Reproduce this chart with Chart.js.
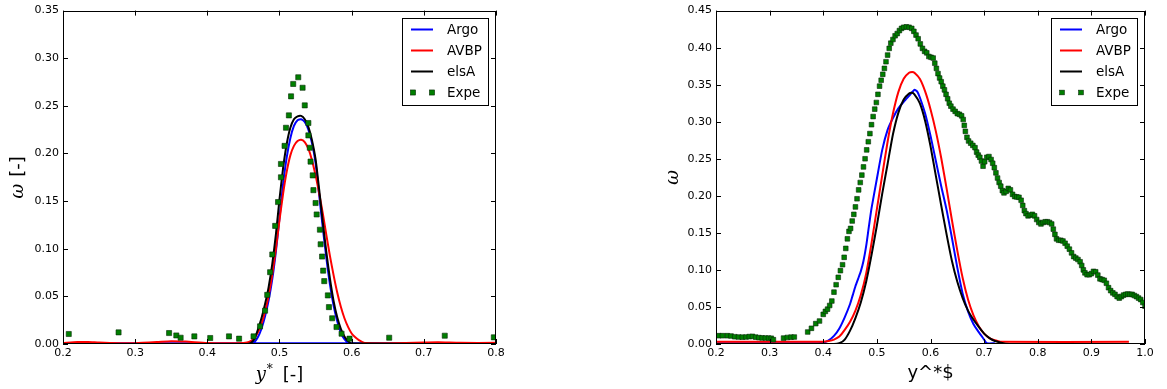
<!DOCTYPE html>
<html>
<head>
<meta charset="utf-8">
<script src="https://cdn.jsdelivr.net/npm/chart.js@4.4.1/dist/chart.umd.min.js"></script>
<style>
  html, body { margin: 0; padding: 0; background: #fff; }
  #wrap { position: relative; width: 1167px; height: 389px; overflow: hidden; }
  canvas { position: absolute; top: 0; }
  #c1 { left: 0; }
  #c2 { left: 583px; }
</style>
</head>
<body>
<div id="wrap">
  <canvas id="c1" width="583" height="389"></canvas>
  <canvas id="c2" width="584" height="389"></canvas>
</div>
<script>
// ---------- shared ----------
const seriesNames = ['Argo', 'AVBP', 'elsA', 'Expe'];

// ---------- left panel: omega vs y* ----------
const leftXTicks = [0.2, 0.3, 0.4, 0.5, 0.6, 0.7, 0.8];
const leftYTicks = [0, 0.05, 0.10, 0.15, 0.20, 0.25, 0.30, 0.35];

// Argo: peak, then the flat trace running back along the bottom
const leftArgoX = [0.20, 0.30, 0.40, 0.455, 0.46, 0.465, 0.47, 0.475, 0.48, 0.485, 0.49, 0.495, 0.50, 0.505, 0.51, 0.515,
  0.52, 0.525, 0.53, 0.535, 0.54, 0.545, 0.55, 0.555, 0.56, 0.565, 0.57, 0.575, 0.58, 0.585, 0.59, 0.595, 0.60,
  0.70, 0.80, 0.20];
const leftArgoY = [0.0008, 0.0008, 0.0008, 0.0008, 0.001, 0.002, 0.007, 0.016, 0.029, 0.046, 0.068, 0.097, 0.132, 0.168, 0.196, 0.216,
  0.229, 0.235, 0.236, 0.233, 0.225, 0.211, 0.190, 0.156, 0.122, 0.090, 0.062, 0.040, 0.024, 0.012, 0.005, 0.0015, 0.0008,
  0.0008, 0.0008, 0.0008];

const leftAvbpX = [0.20, 0.22, 0.235, 0.25, 0.28, 0.30, 0.33, 0.35, 0.37, 0.40, 0.43, 0.45, 0.455, 0.46, 0.465, 0.47, 0.475,
  0.48, 0.485, 0.49, 0.495, 0.50, 0.505, 0.51, 0.515, 0.52, 0.525, 0.53, 0.535, 0.54, 0.545, 0.55, 0.555, 0.56,
  0.565, 0.57, 0.575, 0.58, 0.585, 0.59, 0.595, 0.60, 0.605, 0.61, 0.615, 0.62, 0.65, 0.70, 0.72, 0.75, 0.80];
const leftAvbpY = [0.001, 0.002, 0.0022, 0.0015, 0.0008, 0.0008, 0.002, 0.003, 0.0025, 0.001, 0.0008, 0.001, 0.0015, 0.003, 0.006, 0.012, 0.021,
  0.034, 0.051, 0.073, 0.100, 0.130, 0.158, 0.181, 0.198, 0.208, 0.213, 0.2145, 0.212, 0.205, 0.193, 0.177, 0.158, 0.137,
  0.114, 0.092, 0.072, 0.054, 0.039, 0.027, 0.018, 0.011, 0.007, 0.004, 0.002, 0.001, 0.0008, 0.0015, 0.0018, 0.0012, 0.0012];

const leftElsaX = [0.20, 0.455, 0.46, 0.465, 0.47, 0.475, 0.48, 0.485, 0.49, 0.495, 0.50, 0.505, 0.51, 0.515, 0.52, 0.525,
  0.53, 0.535, 0.54, 0.545, 0.55, 0.555, 0.56, 0.565, 0.57, 0.575, 0.58, 0.585, 0.59, 0.595, 0.60, 0.80];
const leftElsaY = [0, 0, 0.001, 0.005, 0.015, 0.027, 0.042, 0.060, 0.084, 0.115, 0.152, 0.185, 0.210, 0.227, 0.236, 0.239,
  0.2395, 0.236, 0.228, 0.214, 0.194, 0.162, 0.128, 0.096, 0.068, 0.045, 0.028, 0.016, 0.008, 0.003, 0.0005, 0];

const leftExpeX = [0.208, 0.277, 0.347, 0.357, 0.363, 0.382, 0.404, 0.430, 0.444, 0.464,
  0.473, 0.480, 0.483, 0.487, 0.490, 0.494, 0.498, 0.502, 0.502, 0.507,
  0.509, 0.513, 0.516, 0.519, 0.526, 0.532, 0.535, 0.540, 0.540, 0.542,
  0.543, 0.546, 0.547, 0.550, 0.5515, 0.556, 0.557, 0.559, 0.5605, 0.562,
  0.567, 0.5685, 0.573, 0.579, 0.586, 0.597, 0.652, 0.729, 0.797];
const leftExpeY = [0.0105, 0.0122, 0.0115, 0.009, 0.0066, 0.008, 0.0063, 0.008, 0.0056, 0.008,
  0.0185, 0.035, 0.0516, 0.0754, 0.094, 0.124, 0.149, 0.175, 0.189, 0.208,
  0.227, 0.240, 0.260, 0.273, 0.280, 0.269, 0.2505, 0.232, 0.219, 0.206,
  0.1915, 0.177, 0.1615, 0.148, 0.136, 0.120, 0.1047, 0.0918, 0.077, 0.066,
  0.051, 0.0387, 0.027, 0.0178, 0.0108, 0.0056, 0.0066, 0.0087, 0.007];

// ---------- right panel: omega vs y^*$ ----------
const rightXTicks = [0.2, 0.3, 0.4, 0.5, 0.6, 0.7, 0.8, 0.9, 1.0];
const rightYTicks = [0, 0.05, 0.10, 0.15, 0.20, 0.25, 0.30, 0.35, 0.40, 0.45];

const rightArgoX = [0.20, 0.39, 0.40, 0.41, 0.42, 0.43, 0.44, 0.45, 0.455, 0.46, 0.465, 0.47, 0.475, 0.48, 0.485, 0.49,
  0.50, 0.51, 0.52, 0.53, 0.54, 0.55, 0.56, 0.57, 0.575, 0.58, 0.59, 0.60, 0.61, 0.62, 0.63, 0.64, 0.65, 0.66,
  0.67, 0.68, 0.69, 0.70, 0.705, 0.72];
const rightArgoY = [0.001, 0.001, 0.002, 0.005, 0.011, 0.021, 0.036, 0.054, 0.066, 0.078, 0.088, 0.098, 0.112, 0.132, 0.158, 0.183,
  0.223, 0.262, 0.289, 0.305, 0.318, 0.327, 0.335, 0.343, 0.341, 0.333, 0.311, 0.281, 0.247, 0.213, 0.181, 0.143, 0.103, 0.068,
  0.044, 0.027, 0.016, 0.006, 0.001, 0.001];

const rightAvbpX = [0.20, 0.40, 0.41, 0.42, 0.43, 0.44, 0.45, 0.46, 0.47, 0.48, 0.49, 0.50, 0.51, 0.52, 0.53, 0.54, 0.55,
  0.56, 0.566, 0.57, 0.58, 0.59, 0.60, 0.61, 0.62, 0.63, 0.64, 0.65, 0.66, 0.67, 0.68, 0.69, 0.70, 0.71, 0.72, 0.73, 0.97];
const rightAvbpY = [0.003, 0.003, 0.004, 0.006, 0.010, 0.019, 0.030, 0.045, 0.066, 0.095, 0.136, 0.182, 0.228, 0.273, 0.311, 0.340, 0.358,
  0.366, 0.367, 0.366, 0.358, 0.341, 0.317, 0.287, 0.251, 0.210, 0.167, 0.126, 0.089, 0.060, 0.039, 0.024, 0.014, 0.008, 0.005, 0.003, 0.003];

const rightElsaX = [0.20, 0.42, 0.43, 0.44, 0.45, 0.46, 0.47, 0.48, 0.49, 0.50, 0.51, 0.52, 0.53, 0.54, 0.55, 0.56, 0.565,
  0.57, 0.58, 0.59, 0.60, 0.61, 0.62, 0.63, 0.64, 0.65, 0.66, 0.67, 0.68, 0.69, 0.70, 0.71, 0.72, 0.73, 0.74, 0.75];
const rightElsaY = [0, 0, 0.001, 0.006, 0.018, 0.035, 0.056, 0.084, 0.120, 0.160, 0.203, 0.243, 0.283, 0.312, 0.330, 0.338, 0.339,
  0.337, 0.325, 0.301, 0.267, 0.227, 0.187, 0.148, 0.112, 0.084, 0.062, 0.045, 0.033, 0.023, 0.014, 0.008, 0.004, 0.002, 0.0005, 0];

const rightExpeX = [
  0.205, 0.212, 0.221, 0.228, 0.235, 0.242, 0.249, 0.256, 0.262, 0.268,
  0.274, 0.280, 0.286, 0.292, 0.298, 0.303, 0.307, 0.326, 0.333, 0.340,
  0.346, 0.371, 0.378, 0.386, 0.393, 0.400, 0.404, 0.408, 0.412, 0.416,
  0.420, 0.424, 0.428, 0.432, 0.436, 0.439, 0.442, 0.445, 0.448, 0.451,
  0.454, 0.457, 0.460, 0.463, 0.466, 0.469, 0.472, 0.475, 0.478, 0.481,
  0.484, 0.487, 0.490, 0.493, 0.496, 0.499, 0.502, 0.505, 0.508, 0.511,
  0.514, 0.517, 0.520, 0.523, 0.526, 0.530, 0.534, 0.538, 0.542, 0.546,
  0.550, 0.555, 0.560, 0.565, 0.569, 0.573, 0.577, 0.581, 0.585, 0.589,
  0.593, 0.597, 0.601, 0.605, 0.608, 0.611, 0.614, 0.617, 0.620, 0.623,
  0.626, 0.629, 0.632, 0.635, 0.638, 0.642, 0.646, 0.650, 0.654, 0.658,
  0.661, 0.663, 0.665, 0.668, 0.671, 0.675, 0.679, 0.683, 0.686, 0.689,
  0.692, 0.695, 0.698, 0.701, 0.705, 0.709, 0.713, 0.716, 0.719, 0.722,
  0.725, 0.728, 0.731, 0.734, 0.737, 0.741, 0.745, 0.749, 0.753, 0.757,
  0.761, 0.765, 0.769, 0.772, 0.775, 0.778, 0.782, 0.786, 0.790, 0.794,
  0.798, 0.802, 0.806, 0.810, 0.814, 0.818, 0.822, 0.826, 0.829, 0.832,
  0.835, 0.839, 0.843, 0.847, 0.851, 0.855, 0.859, 0.863, 0.867, 0.871,
  0.875, 0.879, 0.882, 0.885, 0.888, 0.892, 0.896, 0.900, 0.904, 0.908,
  0.912, 0.916, 0.920, 0.924, 0.928, 0.932, 0.936, 0.940, 0.944, 0.948,
  0.952, 0.956, 0.960, 0.964, 0.968, 0.972, 0.976, 0.980, 0.984, 0.988,
  0.992, 0.996, 1.000];
const rightExpeY = [
  0.0112, 0.0112, 0.0112, 0.0108, 0.0098, 0.0094, 0.0092, 0.0094, 0.0100, 0.0103,
  0.0092, 0.0086, 0.0082, 0.0081, 0.0080, 0.0078, 0.0058, 0.0080, 0.0088, 0.0092,
  0.0094, 0.0162, 0.0212, 0.0275, 0.0310, 0.0400, 0.0440, 0.0470, 0.0520, 0.0580,
  0.070, 0.080, 0.090, 0.099, 0.107, 0.117, 0.129, 0.142, 0.152, 0.156,
  0.166, 0.175, 0.185, 0.196, 0.208, 0.218, 0.228, 0.239, 0.250, 0.262,
  0.273, 0.284, 0.296, 0.307, 0.317, 0.326, 0.337, 0.348, 0.356, 0.364,
  0.372, 0.381, 0.390, 0.399, 0.406, 0.411, 0.416, 0.419, 0.423, 0.426,
  0.4275, 0.428, 0.4275, 0.426, 0.422, 0.417, 0.412, 0.405, 0.399, 0.395,
  0.393, 0.388, 0.387, 0.386, 0.379, 0.372, 0.365, 0.359, 0.354, 0.348,
  0.343, 0.337, 0.331, 0.325, 0.321, 0.317, 0.314, 0.311, 0.310, 0.308,
  0.303, 0.295, 0.287, 0.279, 0.274, 0.271, 0.268, 0.265, 0.259, 0.255,
  0.252, 0.247, 0.240, 0.246, 0.252, 0.253, 0.249, 0.244, 0.238, 0.231,
  0.224, 0.218, 0.213, 0.207, 0.204, 0.206, 0.210, 0.208, 0.202, 0.199,
  0.1985, 0.198, 0.194, 0.187, 0.180, 0.176, 0.173, 0.174, 0.175, 0.173,
  0.168, 0.164, 0.162, 0.164, 0.165, 0.165, 0.164, 0.162, 0.155, 0.148,
  0.142, 0.140, 0.140, 0.139, 0.136, 0.132, 0.128, 0.123, 0.118, 0.116,
  0.114, 0.111, 0.106, 0.100, 0.096, 0.0935, 0.0935, 0.095, 0.098, 0.0975,
  0.093, 0.088, 0.087, 0.086, 0.082, 0.076, 0.072, 0.069, 0.067, 0.064,
  0.062, 0.064, 0.066, 0.067, 0.0675, 0.067, 0.067, 0.0655, 0.064, 0.062,
  0.060, 0.056, 0.051];

// ---------- helpers ----------
const pts = (xs, ys) => xs.map((x, i) => ({ x, y: ys[i] }));
const TEXT = '#000';
const SANS = '"DejaVu Sans", sans-serif';
const SERIF = '"DejaVu Serif", serif';

function lineSet(label, xs, ys, color, order) {
  return {
    label, data: pts(xs, ys), showLine: true, borderColor: color, backgroundColor: color,
    borderWidth: 2, pointRadius: 0, tension: 0.2, order
  };
}
function expeSet(xs, ys, r) {
  return {
    label: seriesNames[3], data: pts(xs, ys), showLine: false, pointStyle: 'rect',
    pointRadius: r, backgroundColor: '#007f00', borderColor: '#062806', borderWidth: 0.6, order: 0
  };
}

// Inward tick marks on all four sides plus the full axes frame
const frameTicks = {
  id: 'frameTicks',
  afterDatasetsDraw(chart) {
    const { ctx, chartArea: a, scales: { x, y } } = chart;
    const L = 5;
    ctx.save();
    ctx.strokeStyle = '#000';
    ctx.lineWidth = 1;
    ctx.beginPath();
    x.ticks.forEach(t => {
      const px = Math.round(x.getPixelForValue(t.value)) + 0.5;
      ctx.moveTo(px, a.bottom); ctx.lineTo(px, a.bottom - L);
      ctx.moveTo(px, a.top); ctx.lineTo(px, a.top + L);
    });
    y.ticks.forEach(t => {
      const py = Math.round(y.getPixelForValue(t.value)) + 0.5;
      ctx.moveTo(a.left, py); ctx.lineTo(a.left + L, py);
      ctx.moveTo(a.right, py); ctx.lineTo(a.right - L, py);
    });
    ctx.stroke();
    ctx.strokeRect(Math.round(a.left) + 0.5, Math.round(a.top) + 0.5,
      Math.round(a.right - a.left) - 1, Math.round(a.bottom - a.top) - 1);
    ctx.restore();
  }
};

// Axis titles built from mixed-style text runs
function drawRuns(ctx, runs, cx, cy, angle) {
  ctx.save();
  ctx.translate(cx, cy);
  ctx.rotate(angle);
  ctx.fillStyle = TEXT;
  ctx.textBaseline = 'alphabetic';
  ctx.textAlign = 'left';
  let total = 0;
  runs.forEach(r => { ctx.font = r.font; total += ctx.measureText(r.text).width + (r.gap || 0); });
  let x = -total / 2;
  runs.forEach(r => {
    ctx.font = r.font;
    x += r.gap || 0;
    ctx.fillText(r.text, x, r.dy || 0);
    x += ctx.measureText(r.text).width;
  });
  ctx.restore();
}
const axisTitles = {
  id: 'axisTitles',
  afterDraw(chart, args, opts) {
    const { ctx, chartArea: a } = chart;
    drawRuns(ctx, opts.x, (a.left + a.right) / 2, a.bottom + opts.xOffset, 0);
    drawRuns(ctx, opts.y, a.left - opts.yOffset, (a.top + a.bottom) / 2, -Math.PI / 2);
  }
};

// Framed legend in the upper-right corner of the plot
const boxLegend = {
  id: 'boxLegend',
  afterDraw(chart) {
    const { ctx, chartArea: a } = chart;
    const sets = chart.data.datasets;
    ctx.save();
    ctx.font = '13.5px ' + SANS;
    const tw = Math.max(...sets.map(d => ctx.measureText(d.label).width));
    const padL = 9, hl = 22, gap = 14, padR = 7, rowH = 21, first = 11.5;
    const w = Math.round(padL + hl + gap + tw + padR);
    const h = Math.round(first + rowH * (sets.length - 1) + 13.5);
    const right = Math.round(a.right) - 7, top = Math.round(a.top) + 7;
    const left = right - w;
    ctx.fillStyle = '#fff';
    ctx.fillRect(left, top, w, h);
    ctx.strokeStyle = '#000';
    ctx.lineWidth = 1;
    ctx.strokeRect(left + 0.5, top + 0.5, w - 1, h - 1);
    sets.forEach((d, i) => {
      const cy = top + first + i * rowH;
      const x0 = left + padL;
      if (d.showLine) {
        ctx.strokeStyle = d.borderColor;
        ctx.lineWidth = 2;
        ctx.beginPath();
        ctx.moveTo(x0, cy); ctx.lineTo(x0 + hl, cy);
        ctx.stroke();
      } else {
        const s = d.pointRadius * Math.SQRT1_2;
        [x0 + 2, x0 + hl - 1].forEach(cx => {
          ctx.fillStyle = d.backgroundColor;
          ctx.fillRect(cx - s, cy - s, 2 * s, 2 * s);
          ctx.strokeStyle = d.borderColor;
          ctx.lineWidth = d.borderWidth;
          ctx.strokeRect(cx - s, cy - s, 2 * s, 2 * s);
        });
      }
      ctx.fillStyle = TEXT;
      ctx.textBaseline = 'middle';
      ctx.textAlign = 'left';
      ctx.fillText(d.label, x0 + hl + gap, cy + 0.5);
    });
    ctx.restore();
  }
};

function axisScale(min, max, tickList, digits, isX, size) {
  return {
    type: 'linear', min, max,
    afterBuildTicks: s => { s.ticks = tickList.map(v => ({ value: v })); },
    afterFit: s => { if (isX) s.height = size; else s.width = size; },
    grid: { display: false, drawTicks: false },
    border: { display: false },
    ticks: {
      autoSkip: false, maxRotation: 0, color: TEXT,
      padding: isX ? 3 : 4,
      font: { family: 'DejaVu Sans', size: 11 },
      callback: v => Number(v).toFixed(digits)
    }
  };
}

function makeChart(id, cfg) {
  return new Chart(document.getElementById(id), {
    type: 'scatter',
    data: { datasets: cfg.datasets },
    options: {
      responsive: false, animation: false, devicePixelRatio: 1, events: [],
      layout: { padding: { left: 0, top: 10, right: cfg.padRight, bottom: 0 } },
      scales: {
        x: axisScale(cfg.xMin, cfg.xMax, cfg.xTicks, 1, true, 45),
        y: axisScale(cfg.yMin, cfg.yMax, cfg.yTicks, 2, false, cfg.yWidth)
      },
      plugins: {
        legend: { display: false }, tooltip: { enabled: false },
        axisTitles: cfg.titles
      }
    },
    plugins: [frameTicks, axisTitles, boxLegend]
  });
}

makeChart('c1', {
  xMin: 0.2, xMax: 0.8, yMin: 0, yMax: 0.35,
  xTicks: leftXTicks, yTicks: leftYTicks, yWidth: 63, padRight: 87,
  datasets: [
    lineSet(seriesNames[0], leftArgoX, leftArgoY, '#0000ff', 3),
    lineSet(seriesNames[1], leftAvbpX, leftAvbpY, '#ff0000', 2),
    lineSet(seriesNames[2], leftElsaX, leftElsaY, '#000000', 1),
    expeSet(leftExpeX, leftExpeY, 3.6)
  ],
  titles: {
    xOffset: 36, yOffset: 40,
    x: [
      { text: 'y', font: 'italic 18px ' + SERIF },
      { text: '*', font: '12px ' + SERIF, dy: -7, gap: 1 },
      { text: '[-]', font: '18px ' + SANS, gap: 10 }
    ],
    y: [
      { text: 'ω', font: 'italic 18px ' + SERIF },
      { text: '[-]', font: '18px ' + SANS, gap: 7 }
    ]
  }
});

makeChart('c2', {
  xMin: 0.2, xMax: 1.0, yMin: 0, yMax: 0.45,
  xTicks: rightXTicks, yTicks: rightYTicks, yWidth: 133, padRight: 22,
  datasets: [
    lineSet(seriesNames[0], rightArgoX, rightArgoY, '#0000ff', 3),
    lineSet(seriesNames[1], rightAvbpX, rightAvbpY, '#ff0000', 2),
    lineSet(seriesNames[2], rightElsaX, rightElsaY, '#000000', 1),
    expeSet(rightExpeX, rightExpeY, 3.3)
  ],
  titles: {
    xOffset: 34, yOffset: 38,
    x: [{ text: 'y^*$', font: '18px ' + SANS }],
    y: [{ text: 'ω', font: 'italic 18px ' + SERIF }]
  }
});
</script>
</body>
</html>
